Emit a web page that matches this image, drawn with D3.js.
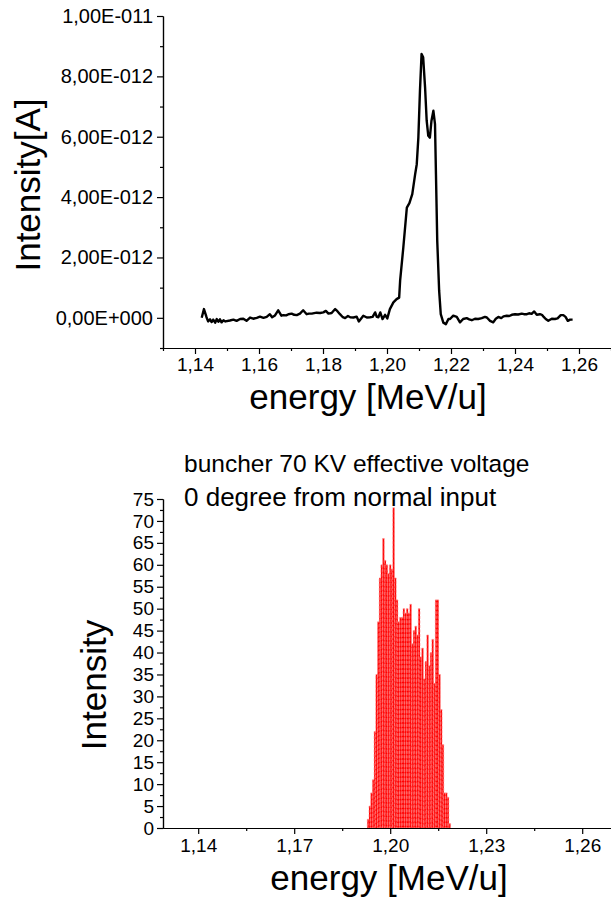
<!DOCTYPE html>
<html>
<head>
<meta charset="utf-8">
<script src="https://cdn.jsdelivr.net/npm/d3@7"></script>
<style>
  html, body { margin: 0; padding: 0; background: #fff; }
  svg { display: block; font-family: "Liberation Sans", Arial, sans-serif; }
</style>
</head>
<body>
<svg id="chart" width="611" height="900"></svg>
<script>
// ---------- DATA: top spectrum (measured) ----------
const energyTop = [
  1.1421, 1.1428, 1.1436, 1.1441, 1.1447, 1.1452, 1.1457, 1.1463, 1.1468, 1.1473, 1.1478, 1.1483, 1.1489,
  1.1495, 1.1509, 1.1520, 1.1530, 1.1541, 1.1551, 1.1561, 1.1572, 1.1582, 1.1593, 1.1603, 1.1614, 1.1624,
  1.1634, 1.1641, 1.1650, 1.1660, 1.1670, 1.1676, 1.1685, 1.1692, 1.1702, 1.1710, 1.1718, 1.1728, 1.1738,
  1.1749, 1.1756, 1.1765, 1.1780, 1.1791, 1.1801, 1.1809, 1.1817, 1.1827, 1.1838, 1.1845, 1.1853, 1.1862,
  1.1869, 1.1878, 1.1885, 1.1895, 1.1905, 1.1912, 1.1926, 1.1937, 1.1947, 1.1955, 1.1963, 1.1968, 1.1973,
  1.1979, 1.1986, 1.1994, 1.2001, 1.2009, 1.2020, 1.2030, 1.2038, 1.2041, 1.2051, 1.2062, 1.2070, 1.2079,
  1.2088, 1.2093, 1.2098, 1.2103, 1.2108, 1.2113, 1.2119, 1.2124, 1.2129, 1.2134, 1.2139, 1.2145, 1.2150,
  1.2153, 1.2157, 1.2163, 1.2168, 1.2176, 1.2184, 1.2192, 1.2197, 1.2207, 1.2218, 1.2228, 1.2238, 1.2249,
  1.2257, 1.2265, 1.2275, 1.2285, 1.2296, 1.2306, 1.2312, 1.2322, 1.2332, 1.2340, 1.2348, 1.2357, 1.2364,
  1.2374, 1.2382, 1.2390, 1.2400, 1.2410, 1.2421, 1.2428, 1.2437, 1.2444, 1.2452, 1.2460, 1.2468, 1.2478,
  1.2484, 1.2489, 1.2496, 1.2504, 1.2515, 1.2525, 1.2533, 1.2543, 1.2551, 1.2558, 1.2565, 1.2572, 1.2580
];
// intensity in units of 1E-012 A
const intensityTop = [
  0.00, 0.29, 0.02, -0.12, -0.05, -0.14, -0.06, -0.16, -0.04, -0.13, -0.05, -0.15, -0.08,
  -0.12, -0.09, -0.06, -0.10, -0.04, -0.03, -0.10, 0.01, -0.03, 0.00, 0.04, 0.00, 0.03,
  0.12, 0.02, 0.08, 0.25, 0.07, 0.09, 0.08, 0.12, 0.14, 0.10, 0.09, 0.14, 0.25,
  0.12, 0.14, 0.14, 0.17, 0.16, 0.18, 0.23, 0.14, 0.16, 0.29, 0.22, 0.12, 0.02,
  -0.01, 0.06, 0.02, 0.01, 0.04, -0.12, 0.07, 0.01, 0.02, 0.03, 0.18, 0.03, 0.02,
  0.18, -0.04, 0.10, -0.02, 0.29, 0.51, 0.62, 0.67, 1.23, 2.33, 3.65, 3.80, 4.10,
  4.76, 5.09, 5.97, 7.52, 8.74, 8.63, 7.63, 6.53, 6.03, 5.97, 6.53, 6.86, 6.42,
  4.76, 2.55, 0.89, 0.12, -0.16, -0.21, -0.04, -0.04, 0.07, 0.03, -0.15, -0.04, -0.01,
  -0.05, -0.08, -0.03, -0.04, -0.01, 0.03, 0.01, -0.10, -0.15, -0.03, 0.03, -0.01, 0.05,
  0.07, 0.06, 0.10, 0.12, 0.11, 0.14, 0.12, 0.12, 0.15, 0.13, 0.21, 0.10, 0.12,
  0.10, 0.04, -0.04, -0.10, -0.03, -0.04, -0.02, 0.09, 0.09, 0.03, -0.10, -0.06, -0.06
];
const topYTicks = [0, 2, 4, 6, 8, 10];
const topYTickLabels = ["0,00E+000", "2,00E-012", "4,00E-012", "6,00E-012", "8,00E-012", "1,00E-011"];
const topXTicks = [1.14, 1.16, 1.18, 1.20, 1.22, 1.24, 1.26];
const topXTickLabels = ["1,14", "1,16", "1,18", "1,20", "1,22", "1,24", "1,26"];

// ---------- DATA: bottom histogram (simulated) ----------
const histStart = 1.19284;
const histBinWidth = 0.00053125;
const histCounts = [2, 5, 8, 11, 22, 35, 47, 57, 60, 66, 61, 60, 58, 60, 59, 73, 57, 52, 47, 48,
                    48, 50, 49, 50, 49, 51, 42, 45, 46, 44, 50, 39, 41, 34, 38, 44, 37, 40, 43, 33,
                    52, 52, 35, 27, 19, 8, 8, 7, 1];
const botYTicks = [0, 5, 10, 15, 20, 25, 30, 35, 40, 45, 50, 55, 60, 65, 70, 75];
const botXTicks = [1.14, 1.17, 1.20, 1.23, 1.26];
const botXTickLabels = ["1,14", "1,17", "1,20", "1,23", "1,26"];
const titleLines = ["buncher 70 KV effective voltage", "0 degree from normal input"];

// ---------- DRAW ----------
const svg = d3.select("#chart");
const tickFont = 19;
const titleFont = 35;

// Top chart scales
const xTop = d3.scaleLinear().domain([1.13, 1.27]).range([163, 611]);
const yTop = d3.scaleLinear().domain([-1, 10]).range([348, 16]);

const gTop = svg.append("g");
const yAxisTop = d3.axisLeft(yTop)
  .tickValues(topYTicks)
  .tickFormat((d, i) => topYTickLabels[i])
  .tickSize(6).tickSizeOuter(0).tickPadding(4);
const yMinorTop = d3.axisLeft(yTop).tickValues(d3.range(-1, 10, 2)).tickFormat("").tickSize(3).tickSizeOuter(0);
gTop.append("g").attr("transform", "translate(163,0)").call(yMinorTop);
gTop.append("g").attr("class", "ax axy").attr("transform", "translate(163,0)").call(yAxisTop);
const xAxisTop = d3.axisBottom(xTop)
  .tickValues(topXTicks)
  .tickFormat((d, i) => topXTickLabels[i])
  .tickSize(6).tickSizeOuter(0).tickPadding(4);
const xMinorTop = d3.axisBottom(xTop).tickValues([1.13, 1.15, 1.17, 1.19, 1.21, 1.23, 1.25, 1.27]).tickFormat("").tickSize(3).tickSizeOuter(0);
gTop.append("g").attr("transform", "translate(0,348)").call(xMinorTop);
gTop.append("g").attr("class", "ax").attr("transform", "translate(0,348)").call(xAxisTop);

const lineTop = d3.line()
  .x((d, i) => xTop(energyTop[i]))
  .y((d) => yTop(d));
gTop.append("path")
  .datum(intensityTop)
  .attr("d", lineTop)
  .attr("fill", "none")
  .attr("stroke", "#000")
  .attr("stroke-width", 2.4)
  .attr("stroke-linejoin", "round");

gTop.append("text")
  .attr("x", 368).attr("y", 409)
  .attr("text-anchor", "middle")
  .attr("font-size", titleFont)
  .text("energy [MeV/u]");
gTop.append("text")
  .attr("transform", "translate(40,185) rotate(-90)")
  .attr("text-anchor", "middle")
  .attr("font-size", titleFont)
  .text("Intensity[A]");

// Bottom chart scales
const xBot = d3.scaleLinear().domain([1.129, 1.269]).range([163, 611]);
const yBot = d3.scaleLinear().domain([0, 75]).range([828, 499]);

const gBot = svg.append("g");
const binStarts = histCounts.map((c, i) => histStart + i * histBinWidth);
gBot.selectAll("rect.bar")
  .data(histCounts)
  .enter().append("rect")
  .attr("class", "bar")
  .attr("x", (d, i) => xBot(binStarts[i]))
  .attr("width", (d, i) => xBot(binStarts[i] + histBinWidth) - xBot(binStarts[i]))
  .attr("y", (d) => yBot(d))
  .attr("height", (d) => yBot(0) - yBot(d))
  .attr("fill", "#ff0000")
  .attr("stroke", "#ff9090")
  .attr("stroke-width", 0.6)
  .attr("stroke-dasharray", "3,1.5");

const yAxisBot = d3.axisLeft(yBot).tickValues(botYTicks).tickFormat(d3.format("d"))
  .tickSize(6).tickSizeOuter(0).tickPadding(3);
const yMinorBot = d3.axisLeft(yBot).tickValues(d3.range(2.5, 75, 5)).tickFormat("").tickSize(3).tickSizeOuter(0);
gBot.append("g").attr("transform", "translate(163,0)").call(yMinorBot);
gBot.append("g").attr("class", "ax").attr("transform", "translate(163,0)").call(yAxisBot);

const xAxisBot = d3.axisBottom(xBot).tickValues(botXTicks)
  .tickFormat((d, i) => botXTickLabels[i])
  .tickSize(6).tickSizeOuter(0).tickPadding(5);
const xMinorBot = d3.axisBottom(xBot).tickValues([1.155, 1.185, 1.215, 1.245]).tickFormat("").tickSize(3).tickSizeOuter(0);
gBot.append("g").attr("transform", "translate(0,828)").call(xMinorBot);
gBot.append("g").attr("class", "ax").attr("transform", "translate(0,828)").call(xAxisBot);

gBot.append("text")
  .attr("x", 389).attr("y", 890)
  .attr("text-anchor", "middle")
  .attr("font-size", titleFont)
  .text("energy [MeV/u]");
gBot.append("text")
  .attr("transform", "translate(106,685) rotate(-90)")
  .attr("text-anchor", "middle")
  .attr("font-size", titleFont)
  .text("Intensity");

const titleSizes = [24.5, 26];
gBot.selectAll("text.title")
  .data(titleLines)
  .enter().append("text")
  .attr("class", "title")
  .attr("x", 184)
  .attr("y", (d, i) => 472 + i * 34)
  .attr("font-size", (d, i) => titleSizes[i])
  .text((d) => d);

// axis styling
svg.selectAll(".domain").attr("stroke", "#000").attr("stroke-width", 1.2);
svg.selectAll(".tick line").attr("stroke", "#000").attr("stroke-width", 1.2);
svg.selectAll(".ax .tick text")
  .attr("font-size", tickFont)
  .attr("font-family", "'Liberation Sans', Arial, sans-serif")
  .attr("fill", "#000");
svg.selectAll(".axy .tick text").attr("font-size", 20);
</script>
</body>
</html>
